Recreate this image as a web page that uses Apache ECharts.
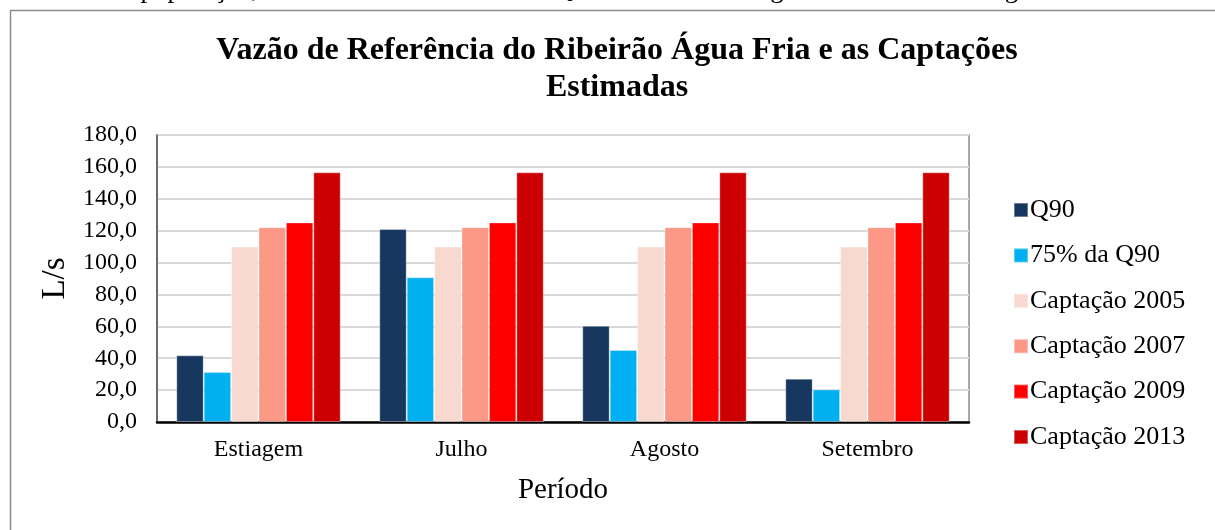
<!DOCTYPE html>
<html>
<head>
<meta charset="utf-8">
<script src="https://cdn.jsdelivr.net/npm/echarts@6/dist/echarts.min.js"></script>
<style>
  html, body { margin: 0; padding: 0; background: #fff; }
  #chart { width: 1215px; height: 530px; }
</style>
</head>
<body>
<div id="chart"></div>
<script>
const periodos = ["Estiagem", "Julho", "Agosto", "Setembro"];
const q90 = [41.8, 121.0, 60.3, 27.2];
const q90_75 = [31.4, 90.8, 45.2, 20.4];
const cap2005 = [110.0, 110.0, 110.0, 110.0];
const cap2007 = [122.2, 122.2, 122.2, 122.2];
const cap2009 = [125.2, 125.2, 125.2, 125.2];
const cap2013 = [156.6, 156.6, 156.6, 156.6];
const serieNomes = ["Q90", "75% da Q90", "Captação 2005", "Captação 2007", "Captação 2009", "Captação 2013"];
const serieCores = ["#17375E", "#00B0F0", "#F7D9CF", "#FB9886", "#FF0000", "#CC0000"];
const serieDados = [q90, q90_75, cap2005, cap2007, cap2009, cap2013];

const font = "'Liberation Serif', 'Times New Roman', serif";
const chart = echarts.init(document.getElementById("chart"), null, {renderer: "canvas"});

const option = {
    animation: false,
    backgroundColor: "#fff",
    title: {
        text: "Vazão de Referência do Ribeirão Água Fria e as Captações\nEstimadas",
        left: 612,
        textAlign: "center",
        top: 27,
        textStyle: {fontFamily: font, fontSize: 32, fontWeight: "bold", color: "#000", lineHeight: 37}
    },
    graphic: [
        {
            type: "text", left: -14, top: -24,
            style: {text: "Estimativa da população, com a vazão de referência Q90 da Bacia Hidrográfica do Ribeirão Água Fria.",
                font: "27px " + font, fill: "#000"}
        },
        {
            type: "rect", left: 8, top: 8,
            shape: {width: 1220, height: 540},
            style: {fill: "none", stroke: "#8c8c8c", lineWidth: 1.5}
        }
    ],
    legend: {
        orient: "vertical",
        left: 1008,
        top: 192,
        itemWidth: 14,
        itemHeight: 14,
        itemGap: 19.4,
        icon: "rect",
        data: serieNomes,
        textStyle: {fontFamily: font, fontSize: 26, lineHeight: 26, color: "#000", padding: [0, 0, 0, -3]}
    },
    grid: {
        left: 157, right: 246, top: 135, bottom: 108,
        show: true, borderColor: "#8c8c8c", borderWidth: 1.5
    },
    xAxis: {
        type: "category",
        data: periodos,
        name: "Período",
        nameLocation: "middle",
        nameGap: 54,
        nameTextStyle: {fontFamily: font, fontSize: 29, color: "#000"},
        axisLine: {lineStyle: {color: "#000", width: 2.5}},
        axisTick: {show: false},
        axisLabel: {fontFamily: font, fontSize: 24, color: "#000", margin: 16}
    },
    yAxis: {
        type: "value",
        min: 0, max: 180, interval: 20,
        name: "L/s",
        nameLocation: "middle",
        nameGap: 82,
        nameTextStyle: {fontFamily: font, fontSize: 33, color: "#000"},
        axisLine: {show: true, lineStyle: {color: "#595959", width: 1.5}},
        axisTick: {show: false},
        axisLabel: {fontFamily: font, fontSize: 24, color: "#000", margin: 20,
            formatter: v => v.toFixed(1).replace(".", ",")},
        splitLine: {lineStyle: {color: "#d9d9d9", width: 2}}
    },
    series: serieNomes.map((nome, i) => ({
        name: nome,
        type: "bar",
        data: serieDados[i],
        barGap: "0%",
        barCategoryGap: "19%",
        itemStyle: {color: serieCores[i], borderColor: "rgba(255,255,255,0.35)", borderWidth: 1}
    }))
};
chart.setOption(option);
</script>
</body>
</html>
